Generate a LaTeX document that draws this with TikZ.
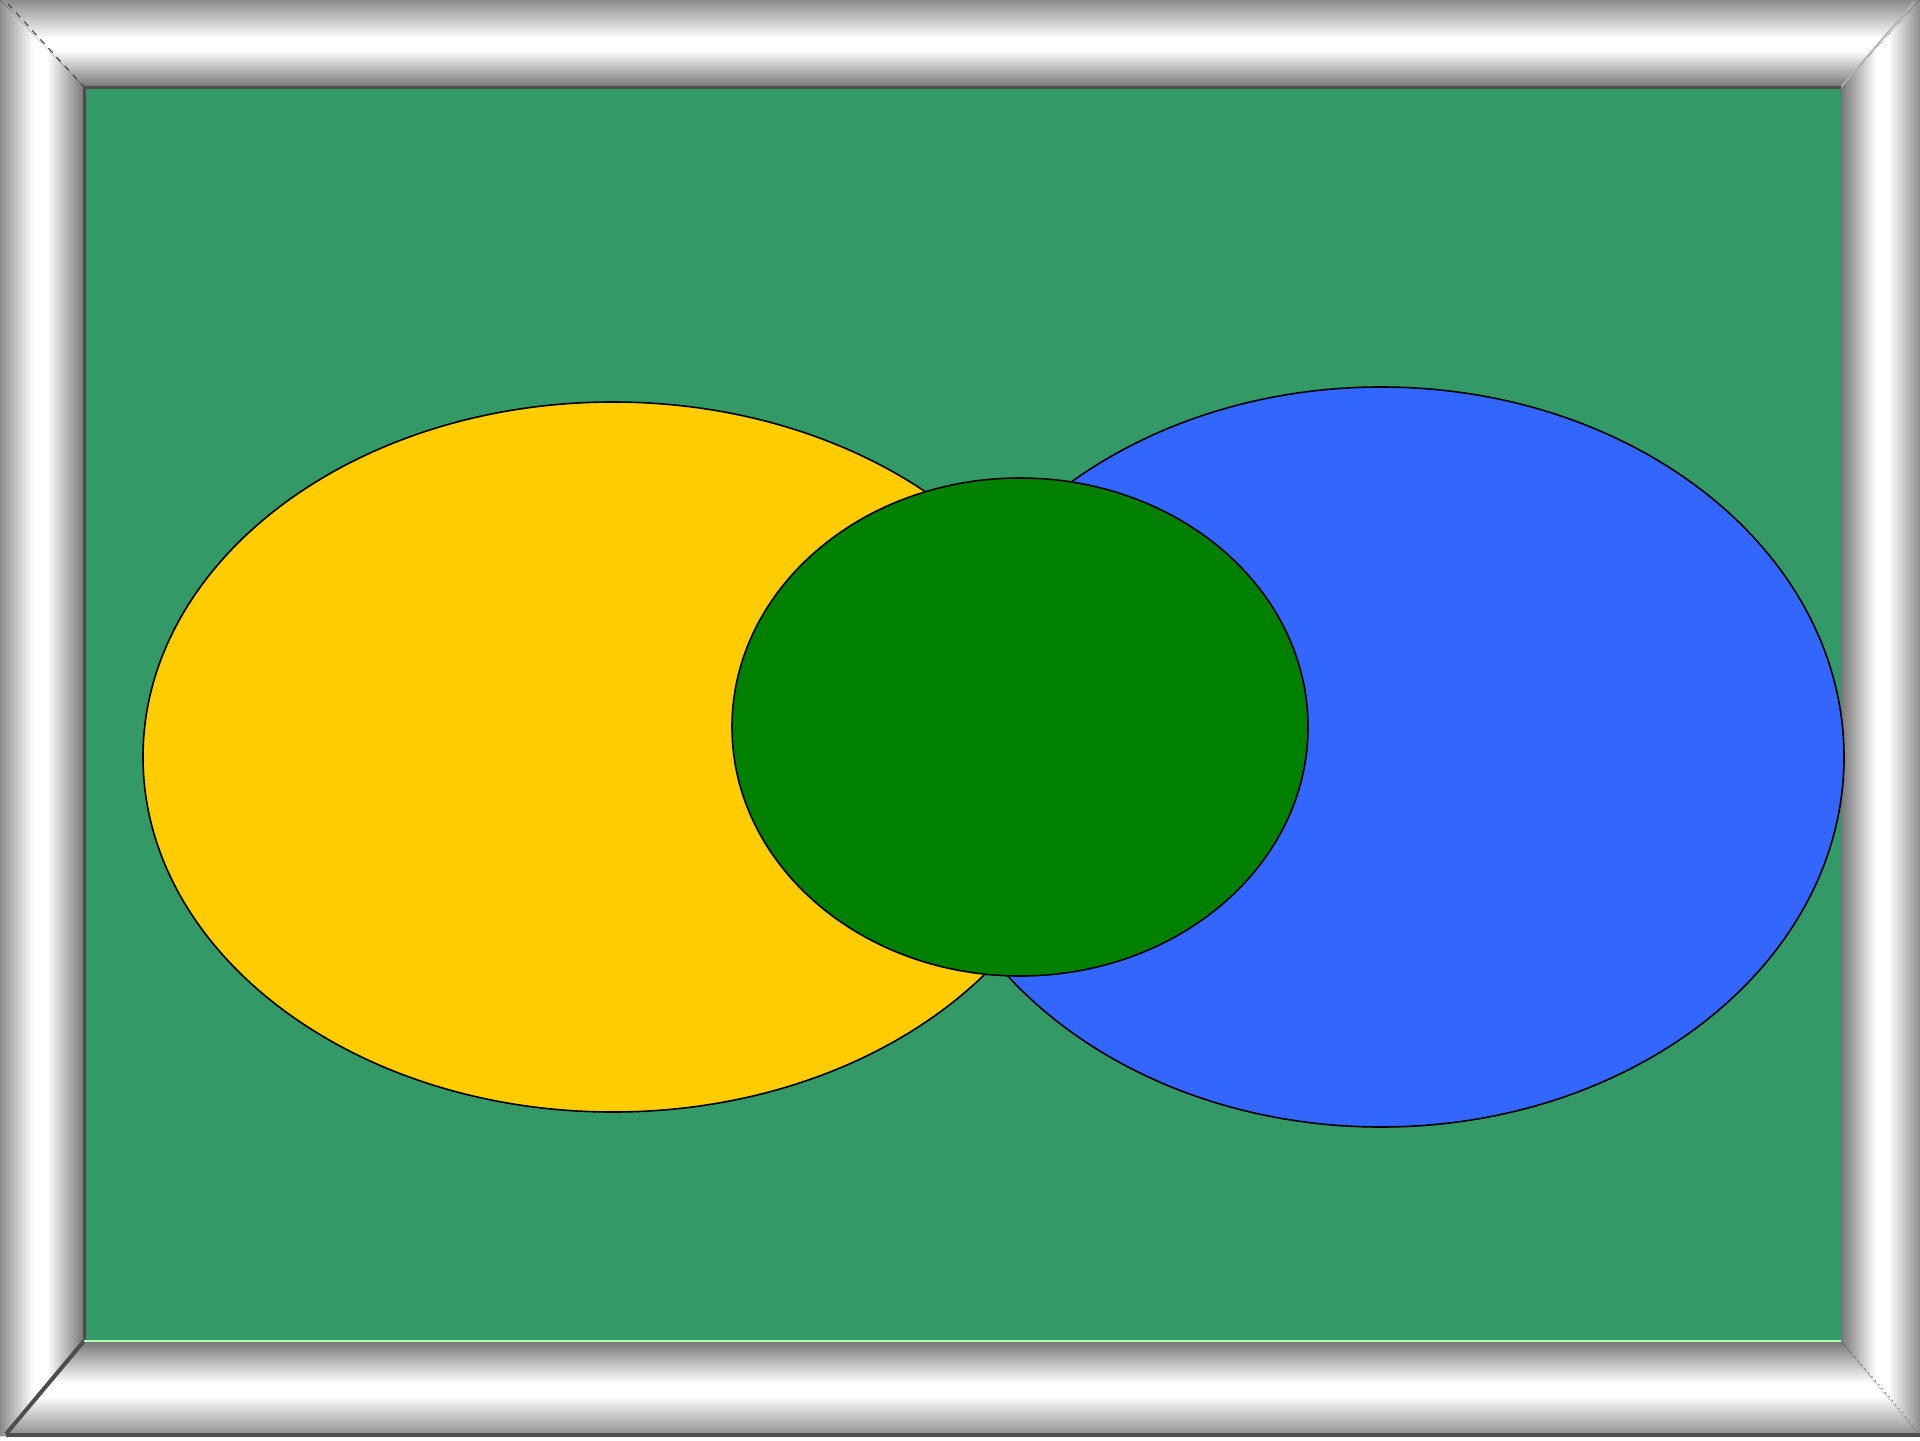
\documentclass[tikz,border=0pt]{standalone}
\definecolor{bggreen}{RGB}{51,153,102}
\definecolor{yel}{RGB}{255,204,0}
\definecolor{blu}{RGB}{51,102,255}
\definecolor{dgreen}{RGB}{0,128,0}
\definecolor{fgray}{RGB}{128,128,128}
\definecolor{innerg}{RGB}{118,118,118}
\definecolor{outerg}{RGB}{140,140,140}
\definecolor{edgegray}{RGB}{77,77,77}
\pgfdeclareverticalshading{bandtop}{100bp}{color(0bp)=(innerg); color(25bp)=(innerg); color(46bp)=(white); color(53bp)=(white); color(75bp)=(outerg); color(100bp)=(outerg)}
\pgfdeclareverticalshading{bandbot}{100bp}{color(0bp)=(outerg); color(25bp)=(outerg); color(46bp)=(white); color(53bp)=(white); color(75bp)=(innerg); color(100bp)=(innerg)}
\pgfdeclarehorizontalshading{bandleft}{100bp}{color(0bp)=(outerg); color(25bp)=(outerg); color(45bp)=(white); color(53bp)=(white); color(75bp)=(innerg); color(100bp)=(innerg)}
\pgfdeclarehorizontalshading{bandright}{100bp}{color(0bp)=(innerg); color(25bp)=(innerg); color(47bp)=(white); color(55bp)=(white); color(75bp)=(outerg); color(100bp)=(outerg)}
\tikzset{
  blob/.style={draw=black, line width=0.8pt},
}
\begin{document}
\begin{tikzpicture}[x=0.5pt,y=-0.5pt]
\useasboundingbox (0,0) rectangle (1920,1440);
\fill[white] (0,0) rectangle (1920,1440);
% frame bands
\fill[shading=bandtop] (0,0) -- (1920,0) -- (1841,87) -- (84,87) -- cycle;
\fill[shading=bandbot] (84,1341) -- (1841,1341) -- (1920,1436) -- (6,1436) -- cycle;
\fill[shading=bandleft] (0,0) -- (84,87) -- (84,1341) -- (6,1436) -- (0,1436) -- cycle;
\fill[shading=bandright] (1920,0) -- (1920,1436) -- (1841,1341) -- (1841,87) -- cycle;
% corner mitres
\draw[edgegray, dashed, line width=0.6pt] (8,4) -- (84,87);
\draw[gray!60, line width=0.8pt] (1914,2) -- (1841,87);
\draw[edgegray, line width=2pt] (6,1434) -- (84,1341);
\draw[fgray, dotted, line width=0.6pt] (1841,1341) -- (1916,1428);
\draw[edgegray, line width=2.2pt] (6,1435) -- (1920,1435);
% inner area
\fill[bggreen] (84,87) rectangle (1841,1341);
\draw[edgegray, line width=1.5pt] (84,1341) -- (84,87) -- (1841,87);
\draw[green!30!white, line width=0.8pt] (84,1341) -- (1841,1341);
% ellipses
\draw[blob, fill=yel] (613,757) ellipse [x radius=470, y radius=355];
\draw[blob, fill=blu] (1381,757) ellipse [x radius=463, y radius=370];
\draw[blob, fill=dgreen] (1020,727) ellipse [x radius=288, y radius=249];
\end{tikzpicture}
\end{document}
